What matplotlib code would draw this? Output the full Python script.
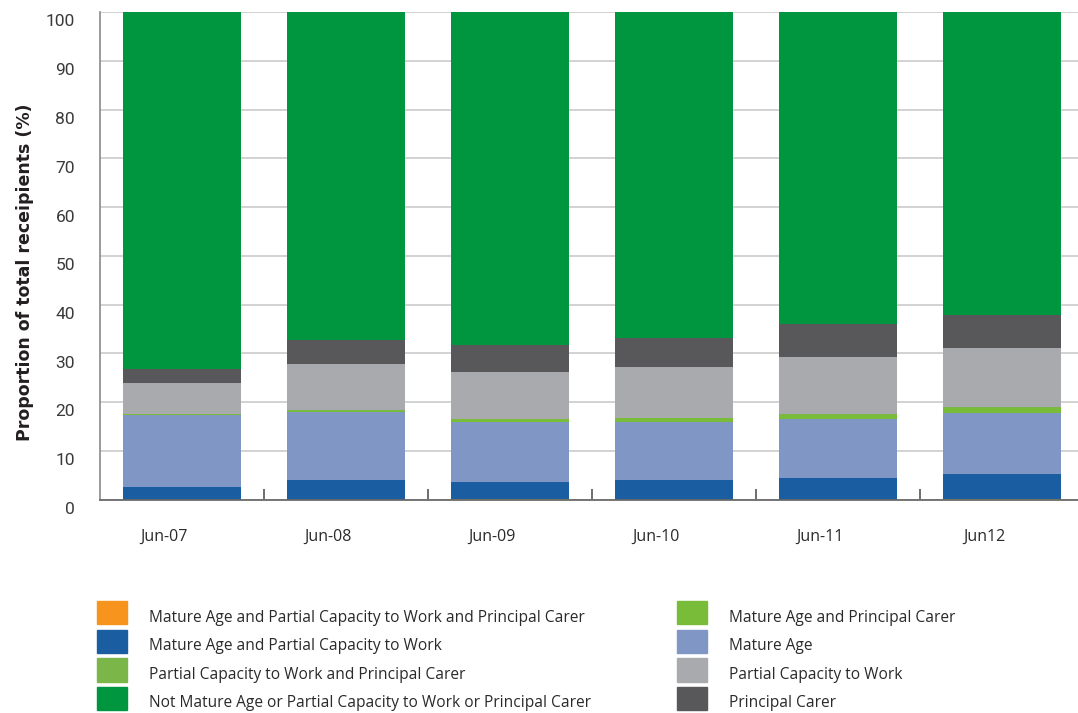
import matplotlib
matplotlib.use("Agg")
import matplotlib.pyplot as plt
import matplotlib.transforms as mtransforms
from matplotlib.patches import Patch
import numpy as np

categories = ["Jun-07", "Jun-08", "Jun-09", "Jun-10", "Jun-11", "Jun12"]

ma_pcw_pc = [0.0, 0.0, 0.1, 0.0, 0.0, 0.15]
ma_pcw = [2.6, 4.0, 3.5, 4.0, 4.5, 5.05]
mature_age = [14.7, 13.9, 12.2, 12.0, 12.0, 12.6]
ma_pc = [0.2, 0.3, 0.7, 0.7, 0.9, 1.0]
pcw_pc = [0.1, 0.1, 0.1, 0.1, 0.1, 0.1]
pcw = [6.2, 9.5, 9.5, 10.4, 11.7, 12.2]
pc = [3.0, 4.9, 5.5, 6.0, 6.7, 6.8]
not_any = [73.2, 67.3, 68.4, 66.8, 64.1, 62.1]

y_ticks = [0, 10, 20, 30, 40, 50, 60, 70, 80, 90, 100]

names = {
    "ma_pcw_pc": "Mature Age and Partial Capacity to Work and Principal Carer",
    "ma_pcw": "Mature Age and Partial Capacity to Work",
    "pcw_pc": "Partial Capacity to Work and Principal Carer",
    "not_any": "Not Mature Age or Partial Capacity to Work or Principal Carer",
    "ma_pc": "Mature Age and Principal Carer",
    "mature_age": "Mature Age",
    "pcw": "Partial Capacity to Work",
    "pc": "Principal Carer",
}
colors = {
    "ma_pcw_pc": "#F7941E",
    "ma_pcw": "#1A5EA1",
    "pcw_pc": "#7AB648",
    "not_any": "#00963F",
    "ma_pc": "#78BC3A",
    "mature_age": "#8096C5",
    "pcw": "#A8AAAD",
    "pc": "#58585A",
}
stack = [("ma_pcw_pc", ma_pcw_pc), ("ma_pcw", ma_pcw), ("mature_age", mature_age),
         ("ma_pc", ma_pc), ("pcw_pc", pcw_pc), ("pcw", pcw), ("pc", pc),
         ("not_any", not_any)]

W, H = 1078, 713
fig = plt.figure(figsize=(W / 100, H / 100), dpi=100)
ax = fig.add_axes([100 / W, 1 - 499.5 / H, 978 / W, 487.5 / H])

x = np.arange(len(categories))
bottom = np.zeros(len(categories))
for key, vals in stack:
    v = np.array(vals)
    ax.bar(x, v, width=0.72, bottom=bottom, color=colors[key], zorder=2, linewidth=0)
    bottom += v

ax.set_xlim(-0.5, -0.5 + 978 / 164)
ax.set_ylim(0, 100)
ax.set_yticks(y_ticks)
ax.set_yticklabels([str(t) for t in y_ticks])
ax.yaxis.grid(True, color="#CFCFCF", linewidth=1.3, zorder=0)
ax.set_axisbelow(True)

for s in ["top", "right"]:
    ax.spines[s].set_visible(False)
ax.spines["left"].set_color("#8A8A8A")
ax.spines["left"].set_linewidth(1.2)
ax.spines["bottom"].set_color("#6A6A6A")
ax.spines["bottom"].set_linewidth(1.3)

ax.tick_params(axis="y", length=0, pad=18, labelsize=12.5, labelcolor="#3A3A3A")
ax.set_xticks(x)
ax.set_xticklabels(categories)
ax.tick_params(axis="x", which="major", length=0, pad=21, labelsize=11.5, labelcolor="#2A2A2A")
ax.set_xticks(x[:-1] + 0.5, minor=True)
ax.tick_params(axis="x", which="minor", direction="in", length=8, width=1.2, color="#555555")

for lbl in ax.get_yticklabels():
    lbl.set_fontfamily("Roboto")
    lbl.set_transform(lbl.get_transform() + mtransforms.ScaledTranslation(0, -0.085, fig.dpi_scale_trans))
for lbl in ax.get_xticklabels():
    lbl.set_fontfamily("Open Sans")
    lbl.set_transform(lbl.get_transform() + mtransforms.ScaledTranslation(-0.18, 0, fig.dpi_scale_trans))

fig.text(25 / W, 1 - 272 / H, "Proportion of total receipients (%)", rotation=90,
         ha="center", va="center", fontsize=12.5, fontweight="bold",
         family="DejaVu Sans", color="#231F20")

left_keys = ["ma_pcw_pc", "ma_pcw", "pcw_pc", "not_any"]
right_keys = ["ma_pc", "mature_age", "pcw", "pc"]
fs = 11.2
common = dict(frameon=False, borderpad=0, borderaxespad=0, handlelength=1.92,
              handleheight=1.93, handletextpad=1.4, labelspacing=0.34,
              loc="upper left", prop={"family": "Open Sans", "size": fs})
leg1 = fig.legend([Patch(color=colors[k]) for k in left_keys], [names[k] for k in left_keys],
                  bbox_to_anchor=(97 / W, 1 - 601 / H), **common)
leg2 = fig.legend([Patch(color=colors[k]) for k in right_keys], [names[k] for k in right_keys],
                  bbox_to_anchor=(677 / W, 1 - 601 / H), **common)
for leg in (leg1, leg2):
    for t in leg.get_texts():
        t.set_color("#2A2A2A")
        t.set_position((0, -4))

fig.savefig("out.png", dpi=100)
